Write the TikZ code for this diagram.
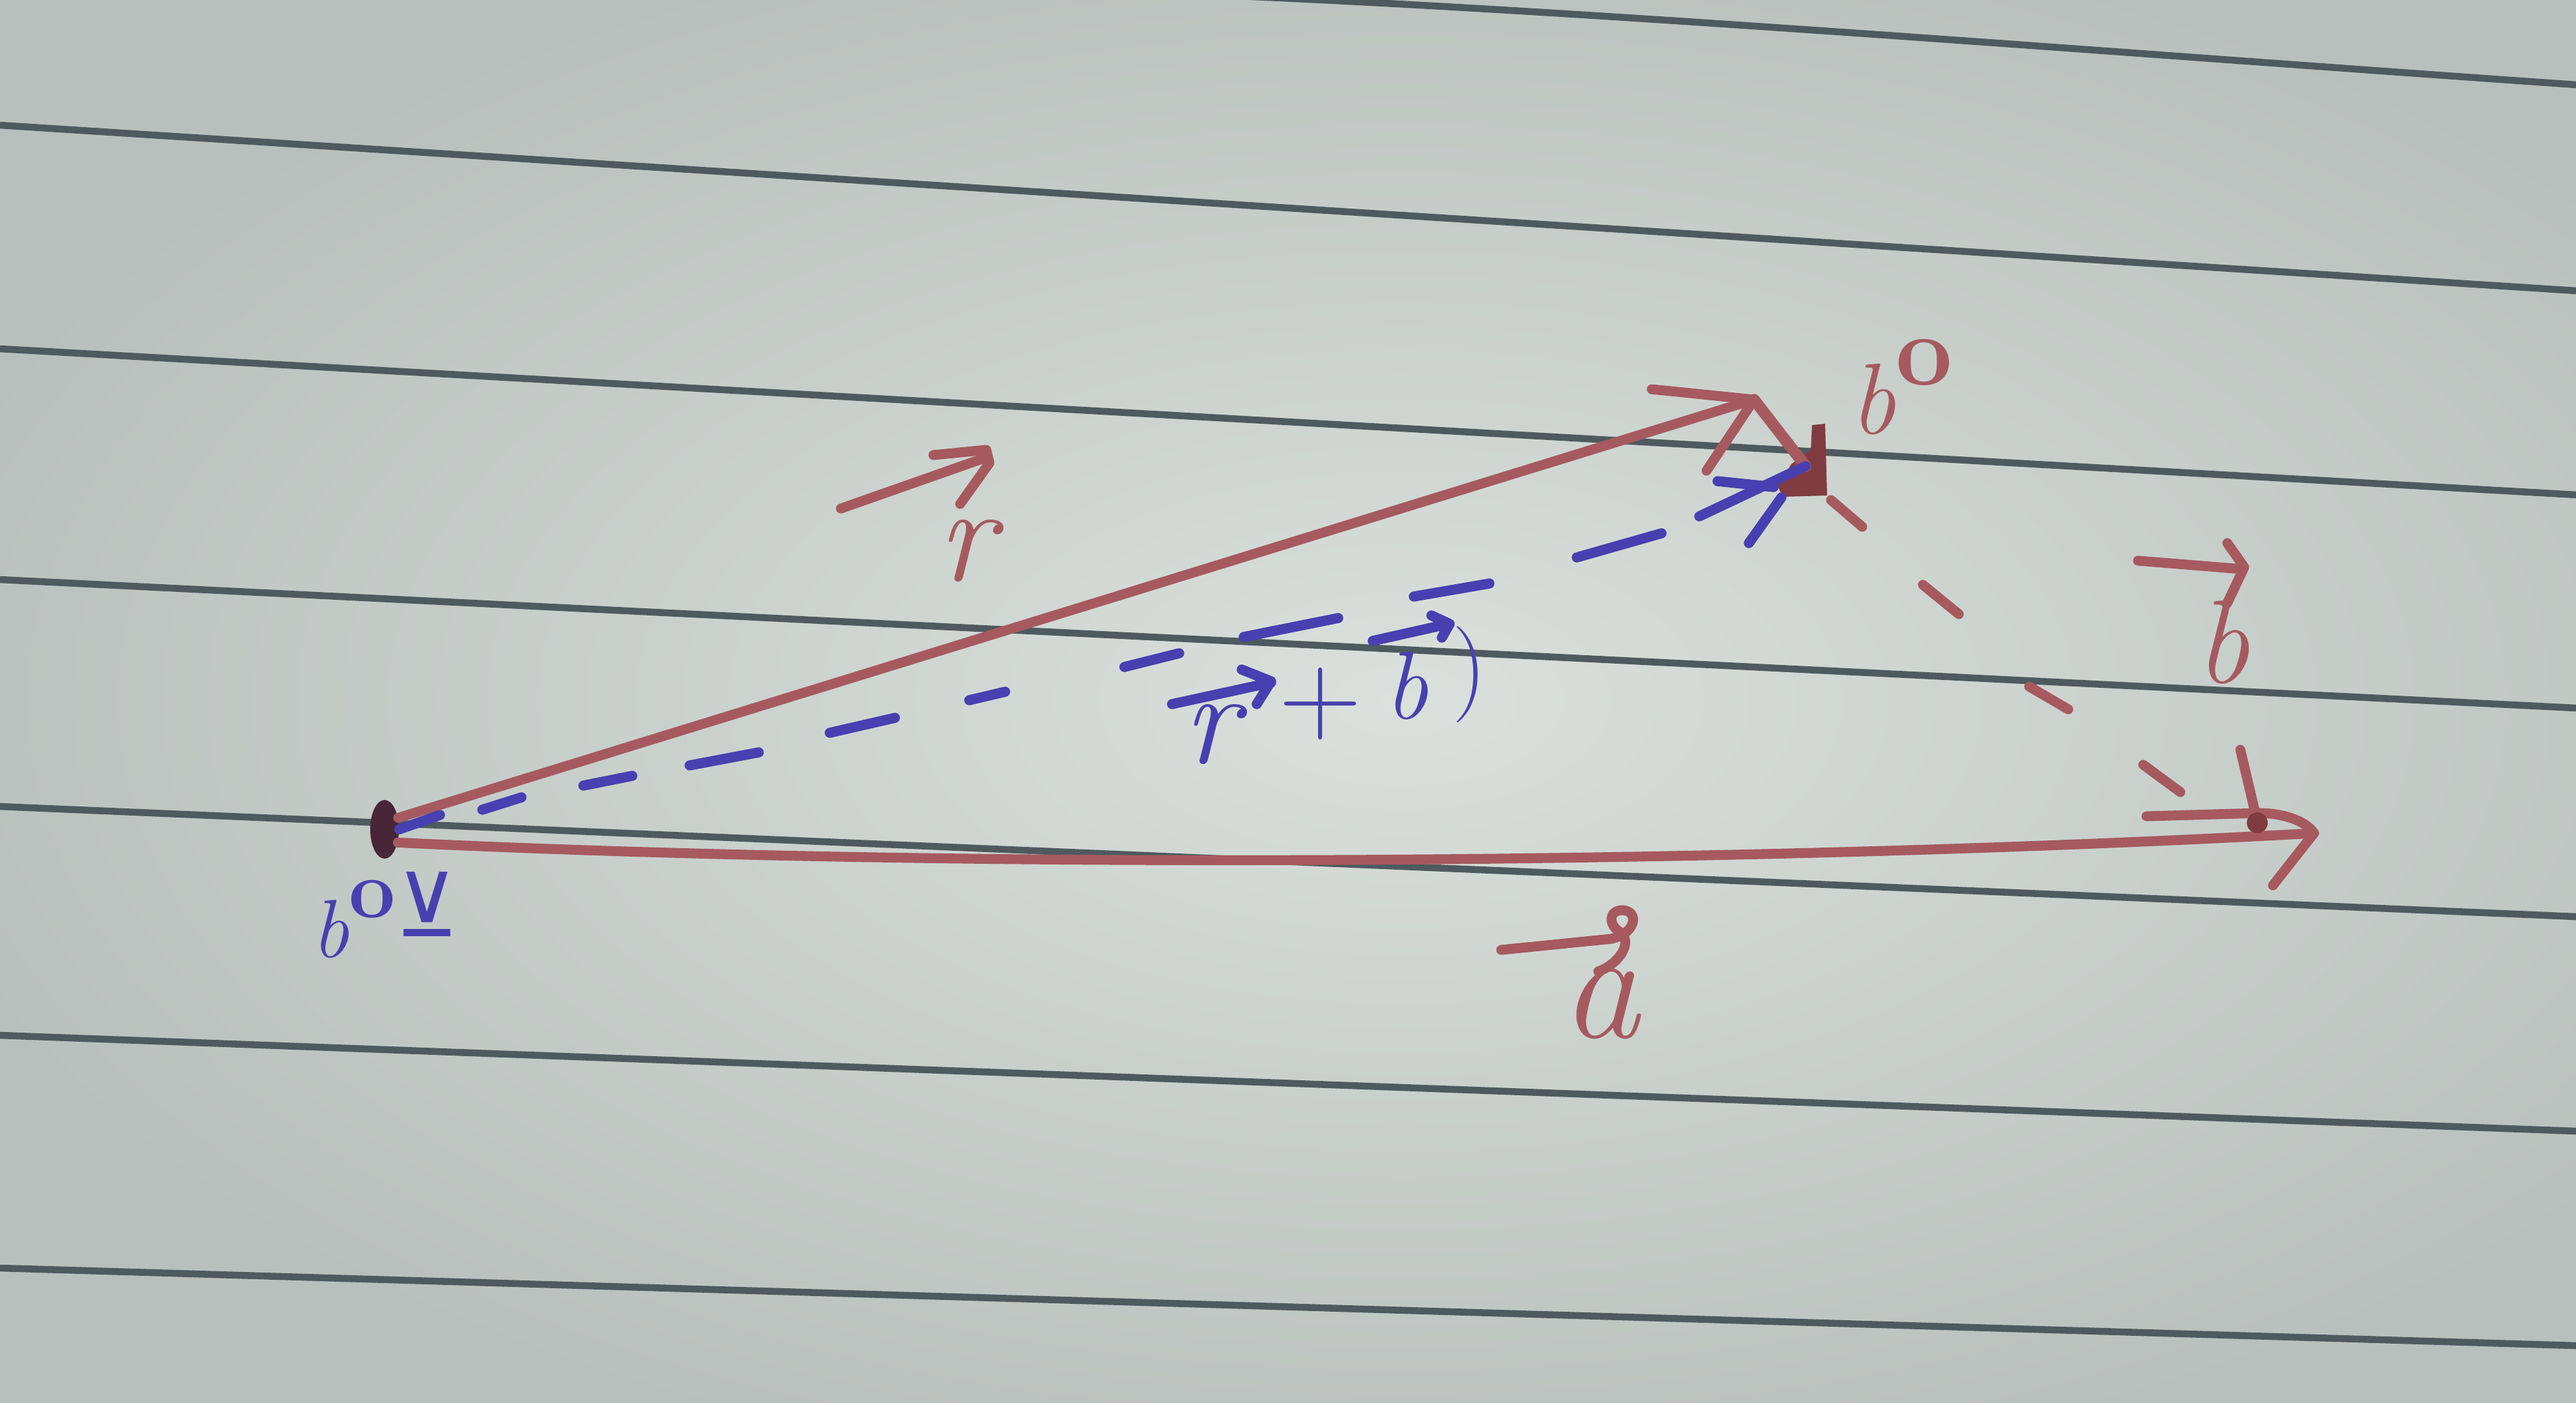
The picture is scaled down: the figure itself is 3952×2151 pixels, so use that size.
\documentclass[tikz,border=0pt]{standalone}
\usepackage{fontspec}
\newfontfamily\dejavu{DejaVu Sans}
\usetikzlibrary{shapes.geometric}
\definecolor{paperin}{RGB}{218,225,220}
\definecolor{paperout}{RGB}{184,192,189}
\definecolor{rulec}{RGB}{78,90,94}
\definecolor{redink}{RGB}{166,90,95}
\definecolor{darkred}{RGB}{128,60,64}
\definecolor{blueink}{RGB}{72,64,176}
\definecolor{blobc}{RGB}{72,38,56}
\newcommand{\curlo}{\raisebox{0.48em}{\upshape\bfseries o}}
\begin{document}
\begin{tikzpicture}[x=0.01cm,y=-0.01cm,
  ruled/.style={draw=rulec,line width=3pt},
  rink/.style={draw=redink,line width=4.3pt,line cap=round,line join=round},
  bink/.style={draw=blueink,line width=4.4pt,line cap=round,line join=round},
  rlab/.style={text=redink,inner sep=0pt},
  blab/.style={text=blueink,inner sep=0pt},
]
\useasboundingbox (0,0) rectangle (3952,2151);
\begin{scope}
\clip (0,0) rectangle (3952,2151);
% paper
\shade[inner color=paperin,outer color=paperout] (-200,-150) rectangle (4500,2300);
% ruled lines
\draw[ruled] (1900,-6) .. controls (2500,20) and (3300,85) .. (3952,130);
\draw[ruled] (0,192) -- (3952,446);
\draw[ruled] (0,535) -- (3952,759);
\draw[ruled] (0,889) -- (3952,1086);
\draw[ruled] (0,1237) -- (3952,1406);
\draw[ruled] (0,1588) -- (3952,1735);
\draw[ruled] (0,1945) -- (3952,2064);

% points
\node[ellipse,fill=blobc,minimum width=0.44cm,minimum height=0.9cm,inner sep=0pt] (O) at (590,1272) {};
\coordinate (Rtip) at (2691,613);
\coordinate (P) at (2770,715);
\coordinate (Q) at (3550,1278);
\fill[darkred] (2780,652) -- (2800,650) -- (2803,760) -- (2735,762) -- (2727,745) -- (2748,712) -- (2778,690) -- cycle;

% vector r (red, solid)
\draw[rink] (O.40) -- (Rtip);
\draw[rink] (2534,597) -- (Rtip) -- (2618,722);
\draw[rink,line width=5pt] (Rtip) -- (P);

% vector a (red, solid)
\draw[rink] (O.-45) .. controls (1500,1335) and (2700,1325) .. (Q);
\draw[rink] (3293,1252) -- (3467,1247) .. controls (3510,1248) and (3540,1262) .. (Q) -- (3487,1358);
\draw[rink] (3437,1150) -- (3467,1277);
\fill[darkred] (3463,1262) circle (16);

% vector b (red, dashed)
\draw[rink] (2809,767) -- (2857,808)
            (2950,897) -- (3005,942)
            (3113,1053) -- (3173,1088)
            (3288,1173) -- (3345,1215);

% r + b (blue, dashed)
\draw[bink] (O.east) -- (675,1250)
            (740,1242) -- (800,1223)
            (895,1205) -- (970,1190)
            (1058,1174) -- (1164,1154)
            (1273,1124) -- (1373,1101)
            (1487,1074) -- (1542,1061)
            (1725,1023) -- (1809,1002)
            (1908,977) -- (2053,948)
            (2169,915) -- (2285,895)
            (2419,855) -- (2549,818)
            (2607,792) -- (P);
\draw[bink] (2635,738) -- (2721,747);
\draw[bink] (2683,833) -- (2733,763);

% labels: r (red)
\node[rlab,font=\fontsize{60}{60}\selectfont\itshape] (rl) at (1482,845) {r};
\draw[rink] (1290,780) -- (1512,702);
\draw[rink] (1432,698) -- (1513,690) -- (1518,710) -- (1473,773);

% labels: b (red)
\node[rlab,font=\fontsize{52}{52}\selectfont\itshape] (bl) at (3410,985) {b};
\draw[rink] (3280,860) -- (3440,873);
\draw[rink] (3417,833) -- (3443,870) -- (3417,925);

% labels: a (red)
\node[rlab,font=\fontsize{68}{68}\selectfont\itshape] (al) at (2455,1540) {a};
\draw[rink] (2303,1457) -- (2472,1440) .. controls (2510,1432) and (2515,1398) .. (2490,1396)
  .. controls (2466,1396) and (2468,1420) .. (2486,1430) .. controls (2505,1445) and (2485,1478) .. (2452,1490);

% label r + b) (blue)
\node[blab,font=\fontsize{58}{58}\selectfont\itshape] (sr) at (1858,1127) {r};
\draw[bink] (1798,1080) -- (1950,1047);
\draw[bink] (1905,1027) -- (1950,1045) -- (1928,1080);
\node[blab,font=\fontsize{50}{50}\selectfont] (plus) at (2026,1080) {+};
\node[blab,font=\fontsize{42}{42}\selectfont\itshape] (sb) at (2158,1052) {b};
\draw[bink] (2106,983) -- (2222,957);
\draw[bink] (2196,944) -- (2224,957) -- (2212,978);
\node[blab,font=\fontsize{42}{42}\selectfont] (paren) at (2255,1035) {)};

% point labels
\node[rlab,font=\fontsize{44}{44}\selectfont\itshape,anchor=base west] (Pl) at (2838,665) {b\curlo};
\node[blab,font=\fontsize{36}{36}\selectfont\itshape,anchor=base west] (Ol) at (478,1468)
  {b\curlo\raisebox{0.25em}{\upshape\dejavu\fontsize{38}{38}\selectfont ⊻}};
\end{scope}
\end{tikzpicture}
\end{document}
